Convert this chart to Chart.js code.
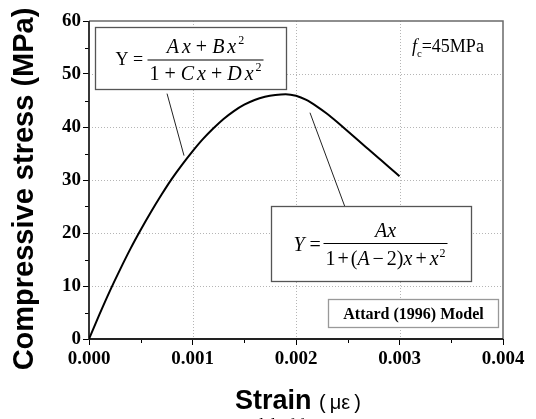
<!DOCTYPE html>
<html>
<head>
<meta charset="utf-8">
<script src="https://cdn.jsdelivr.net/npm/chart.js@4/dist/chart.umd.min.js"></script>
<style>
  html, body { margin: 0; padding: 0; background: #fff; }
  #wrap { width: 536px; height: 419px; position: relative; }
</style>
</head>
<body>
<div id="wrap"><canvas id="c" width="536" height="419"></canvas></div>
<script>
// Attard (1996) stress-strain curve, fc = 45 MPa
const strain = [0, 0.0001, 0.0002, 0.0003, 0.0004, 0.0005, 0.0006, 0.0007, 0.0008, 0.0009,
                0.0010, 0.0011, 0.0012, 0.0013, 0.0014, 0.0015, 0.0016, 0.0017, 0.0018, 0.0019,
                0.0020, 0.0021, 0.0022, 0.0023, 0.0024, 0.0025, 0.0026, 0.0027, 0.0028, 0.0029, 0.0030];
const stress = [0, 4.6, 9.0, 13.1, 17.0, 20.6, 24.0, 27.2, 30.2, 32.9,
                35.4, 37.7, 39.7, 41.5, 43.0, 44.2, 45.1, 45.7, 46.05, 46.2,
                45.9, 45.1, 43.9, 42.5, 40.9, 39.2, 37.5, 35.8, 34.1, 32.4, 30.7];
const xTickValues = [0, 0.001, 0.002, 0.003, 0.004];
const yTickValues = [0, 10, 20, 30, 40, 50, 60];

const SERIF = '"Liberation Serif", "Times New Roman", serif';
const SANS = '"Liberation Sans", Arial, sans-serif';

// draw a run of math-style text segments
function richWidth(ctx, segs, size) {
  let w = 0;
  for (const s of segs) {
    const sz = s.sup || s.sub ? size * 0.6 : size;
    ctx.font = (s.i ? 'italic ' : '') + sz + 'px ' + SERIF;
    w += ctx.measureText(s.t).width + (s.g || 0);
  }
  return w;
}
function drawRich(ctx, segs, x, by, size, align) {
  const w = richWidth(ctx, segs, size);
  let px = align === 'left' ? x : x - w / 2;
  ctx.textAlign = 'left';
  ctx.textBaseline = 'alphabetic';
  for (const s of segs) {
    const sz = s.sup || s.sub ? size * 0.6 : size;
    ctx.font = (s.i ? 'italic ' : '') + sz + 'px ' + SERIF;
    const dy = s.sup ? -size * 0.42 : (s.sub ? size * 0.25 : 0);
    ctx.fillText(s.t, px, by + dy);
    px += ctx.measureText(s.t).width + (s.g || 0);
  }
  return w;
}

const decorations = {
  id: 'decorations',
  beforeDatasetsDraw(chart) {
    const { ctx, chartArea: a, scales: { x, y } } = chart;
    ctx.save();
    // dotted grid
    ctx.strokeStyle = '#b5b5b5';
    ctx.lineWidth = 1;
    ctx.setLineDash([1, 2]);
    xTickValues.slice(1, -1).forEach(v => {
      const px = Math.round(x.getPixelForValue(v)) + 0.5;
      ctx.beginPath(); ctx.moveTo(px, a.top); ctx.lineTo(px, a.bottom); ctx.stroke();
    });
    yTickValues.slice(1, -1).forEach(v => {
      const py = Math.round(y.getPixelForValue(v)) + 0.5;
      ctx.beginPath(); ctx.moveTo(a.left, py); ctx.lineTo(a.right, py); ctx.stroke();
    });
    ctx.setLineDash([]);
    // minor ticks
    ctx.strokeStyle = '#000';
    ctx.lineWidth = 1;
    for (let i = 0; i < xTickValues.length - 1; i++) {
      const px = Math.round(x.getPixelForValue((xTickValues[i] + xTickValues[i + 1]) / 2)) + 0.5;
      ctx.beginPath(); ctx.moveTo(px, a.bottom); ctx.lineTo(px, a.bottom + 4); ctx.stroke();
    }
    for (let i = 0; i < yTickValues.length - 1; i++) {
      const py = Math.round(y.getPixelForValue((yTickValues[i] + yTickValues[i + 1]) / 2)) + 0.5;
      ctx.beginPath(); ctx.moveTo(a.left, py); ctx.lineTo(a.left - 4, py); ctx.stroke();
    }
    // frame: top/right grey, left/bottom dark
    ctx.lineWidth = 1.5;
    ctx.strokeStyle = '#6a6a6a';
    ctx.beginPath();
    ctx.moveTo(a.left, a.top); ctx.lineTo(a.right, a.top); ctx.lineTo(a.right, a.bottom);
    ctx.stroke();
    ctx.strokeStyle = '#222';
    ctx.lineWidth = 1.8;
    ctx.beginPath();
    ctx.moveTo(a.left, a.top); ctx.lineTo(a.left, a.bottom); ctx.lineTo(a.right, a.bottom);
    ctx.stroke();
    ctx.restore();
  },
  afterDraw(chart) {
    const { ctx, scales: { x, y } } = chart;
    const X = v => x.getPixelForValue(v), Y = v => y.getPixelForValue(v);
    ctx.save();
    ctx.fillStyle = '#000';

    // leader lines
    ctx.strokeStyle = '#222';
    ctx.lineWidth = 1;
    ctx.beginPath(); ctx.moveTo(X(0.000754), Y(46.3)); ctx.lineTo(X(0.000918), Y(34.6)); ctx.stroke();
    ctx.beginPath(); ctx.moveTo(X(0.002135), Y(42.7)); ctx.lineTo(X(0.0025), Y(23.5)); ctx.stroke();

    // box 1: general form
    let bx0 = Math.round(X(0.000058)) + 0.5, by0 = Math.round(Y(58.8)) + 0.5;
    let bx1 = Math.round(X(0.0019)) + 0.5, by1 = Math.round(Y(47.1)) + 0.5;
    ctx.fillStyle = '#fff';
    ctx.fillRect(bx0, by0, bx1 - bx0, by1 - by0);
    ctx.strokeStyle = '#555'; ctx.lineWidth = 1.3;
    ctx.strokeRect(bx0, by0, bx1 - bx0, by1 - by0);
    ctx.fillStyle = '#000';
    let midY = (by0 + by1) / 2;
    drawRich(ctx, [{ t: 'Y =' }], bx0 + 20, midY + 6, 18, 'left');
    ctx.fillRect(bx0 + 52, midY + 1, 116, 1);
    drawRich(ctx, [{ t: 'A', i: 1, g: 3 }, { t: 'x', i: 1 }, { t: ' + ' }, { t: 'B', i: 1, g: 3 }, { t: 'x', i: 1, g: 2 }, { t: '2', sup: 1 }],
             bx0 + 110, midY - 6, 20);
    drawRich(ctx, [{ t: '1 + ' }, { t: 'C', i: 1, g: 3 }, { t: 'x', i: 1 }, { t: ' + ' }, { t: 'D', i: 1, g: 3 }, { t: 'x', i: 1, g: 2 }, { t: '2', sup: 1 }],
             bx0 + 110, midY + 21, 20);

    // box 2: Attard form
    bx0 = Math.round(X(0.001758)) + 0.5; by0 = Math.round(Y(25.0)) + 0.5;
    bx1 = Math.round(X(0.00369)) + 0.5; by1 = Math.round(Y(10.85)) + 0.5;
    ctx.fillStyle = '#fff';
    ctx.fillRect(bx0, by0, bx1 - bx0, by1 - by0);
    ctx.strokeStyle = '#555'; ctx.lineWidth = 1.3;
    ctx.strokeRect(bx0, by0, bx1 - bx0, by1 - by0);
    ctx.fillStyle = '#000';
    midY = (by0 + by1) / 2;
    drawRich(ctx, [{ t: 'Y', i: 1 }, { t: ' =' }], bx0 + 22, midY + 7, 20, 'left');
    ctx.fillRect(bx0 + 52, midY - 1, 124, 1);
    drawRich(ctx, [{ t: 'A', i: 1 }, { t: 'x', i: 1 }], bx0 + 114, midY - 7, 20);
    drawRich(ctx, [{ t: '1', g: 2 }, { t: '+', g: 2 }, { t: '(' }, { t: 'A', i: 1, g: 3 }, { t: '\u2212', g: 3 }, { t: '2' },
                   { t: ')' }, { t: 'x', i: 1, g: 3 }, { t: '+', g: 3 }, { t: 'x', i: 1, g: 1 }, { t: '2', sup: 1 }],
             bx0 + 114, midY + 21, 20);

    // model label
    bx0 = Math.round(X(0.00231)) + 0.5; by0 = Math.round(Y(7.64)) + 0.5;
    bx1 = Math.round(X(0.00395)) + 0.5; by1 = Math.round(Y(2.17)) + 0.5;
    ctx.fillStyle = '#fff';
    ctx.fillRect(bx0, by0, bx1 - bx0, by1 - by0);
    ctx.strokeStyle = '#999'; ctx.lineWidth = 1.3;
    ctx.strokeRect(bx0, by0, bx1 - bx0, by1 - by0);
    ctx.fillStyle = '#000';
    ctx.font = 'bold 16px ' + SERIF;
    ctx.textAlign = 'center'; ctx.textBaseline = 'middle';
    ctx.fillText('Attard (1996) Model', (bx0 + bx1) / 2, (by0 + by1) / 2 + 1);

    // strength note
    drawRich(ctx, [{ t: 'f', i: 1, g: 0 }, { t: 'c', sub: 1 }, { t: '=45MPa' }], X(0.00312), Y(55.2) + 6, 18, 'left');

    // axis titles
    ctx.font = 'bold 29px ' + SANS;
    ctx.textAlign = 'center'; ctx.textBaseline = 'middle';
    ctx.save();
    ctx.translate(25, 189);
    ctx.rotate(-Math.PI / 2);
    ctx.fillText('Compressive stress (MPa)', 0, 0);
    ctx.restore();

    ctx.textAlign = 'left'; ctx.textBaseline = 'alphabetic';
    ctx.font = 'bold 27px ' + SANS;
    ctx.fillText('Strain', 235, 409);
    const sw = ctx.measureText('Strain').width;
    ctx.font = '20px ' + SANS;
    ctx.fillText(' (\u2009\u03bc\u03b5\u2009)', 235 + sw + 2, 409);

    // figure caption
    ctx.font = '17px ' + SERIF;
    ctx.fillText('Fig. 3. Compressive model of f', 92, 430);
    ctx.restore();
  }
};

new Chart(document.getElementById('c'), {
  type: 'scatter',
  data: {
    datasets: [{
      data: strain.map((s, i) => ({ x: s, y: stress[i] })),
      showLine: true,
      borderColor: '#000',
      borderWidth: 2,
      pointRadius: 0,
      cubicInterpolationMode: 'monotone',
      fill: false
    }]
  },
  options: {
    responsive: false,
    devicePixelRatio: 1,
    animation: false,
    layout: { padding: { left: 0, top: 21, right: 33, bottom: 0 } },
    plugins: { legend: { display: false }, tooltip: { enabled: false } },
    scales: {
      x: {
        type: 'linear', min: 0, max: 0.004,
        afterFit: s => { s.height = 80; },
        afterBuildTicks: s => { s.ticks = xTickValues.map(v => ({ value: v })); },
        border: { display: false },
        grid: { drawOnChartArea: false, drawTicks: true, tickLength: 6, tickColor: '#000', tickWidth: 1 },
        ticks: {
          color: '#000', padding: 3,
          font: { family: SERIF, weight: 'bold', size: 19 },
          callback: v => v.toFixed(3)
        }
      },
      y: {
        type: 'linear', min: 0, max: 60,
        afterFit: s => { s.width = 89; },
        afterBuildTicks: s => { s.ticks = yTickValues.map(v => ({ value: v })); },
        border: { display: false },
        grid: { drawOnChartArea: false, drawTicks: true, tickLength: 6, tickColor: '#000', tickWidth: 1 },
        ticks: {
          color: '#000', padding: 2,
          font: { family: SERIF, weight: 'bold', size: 19 },
          callback: v => String(v)
        }
      }
    }
  },
  plugins: [decorations]
});
</script>
</body>
</html>
